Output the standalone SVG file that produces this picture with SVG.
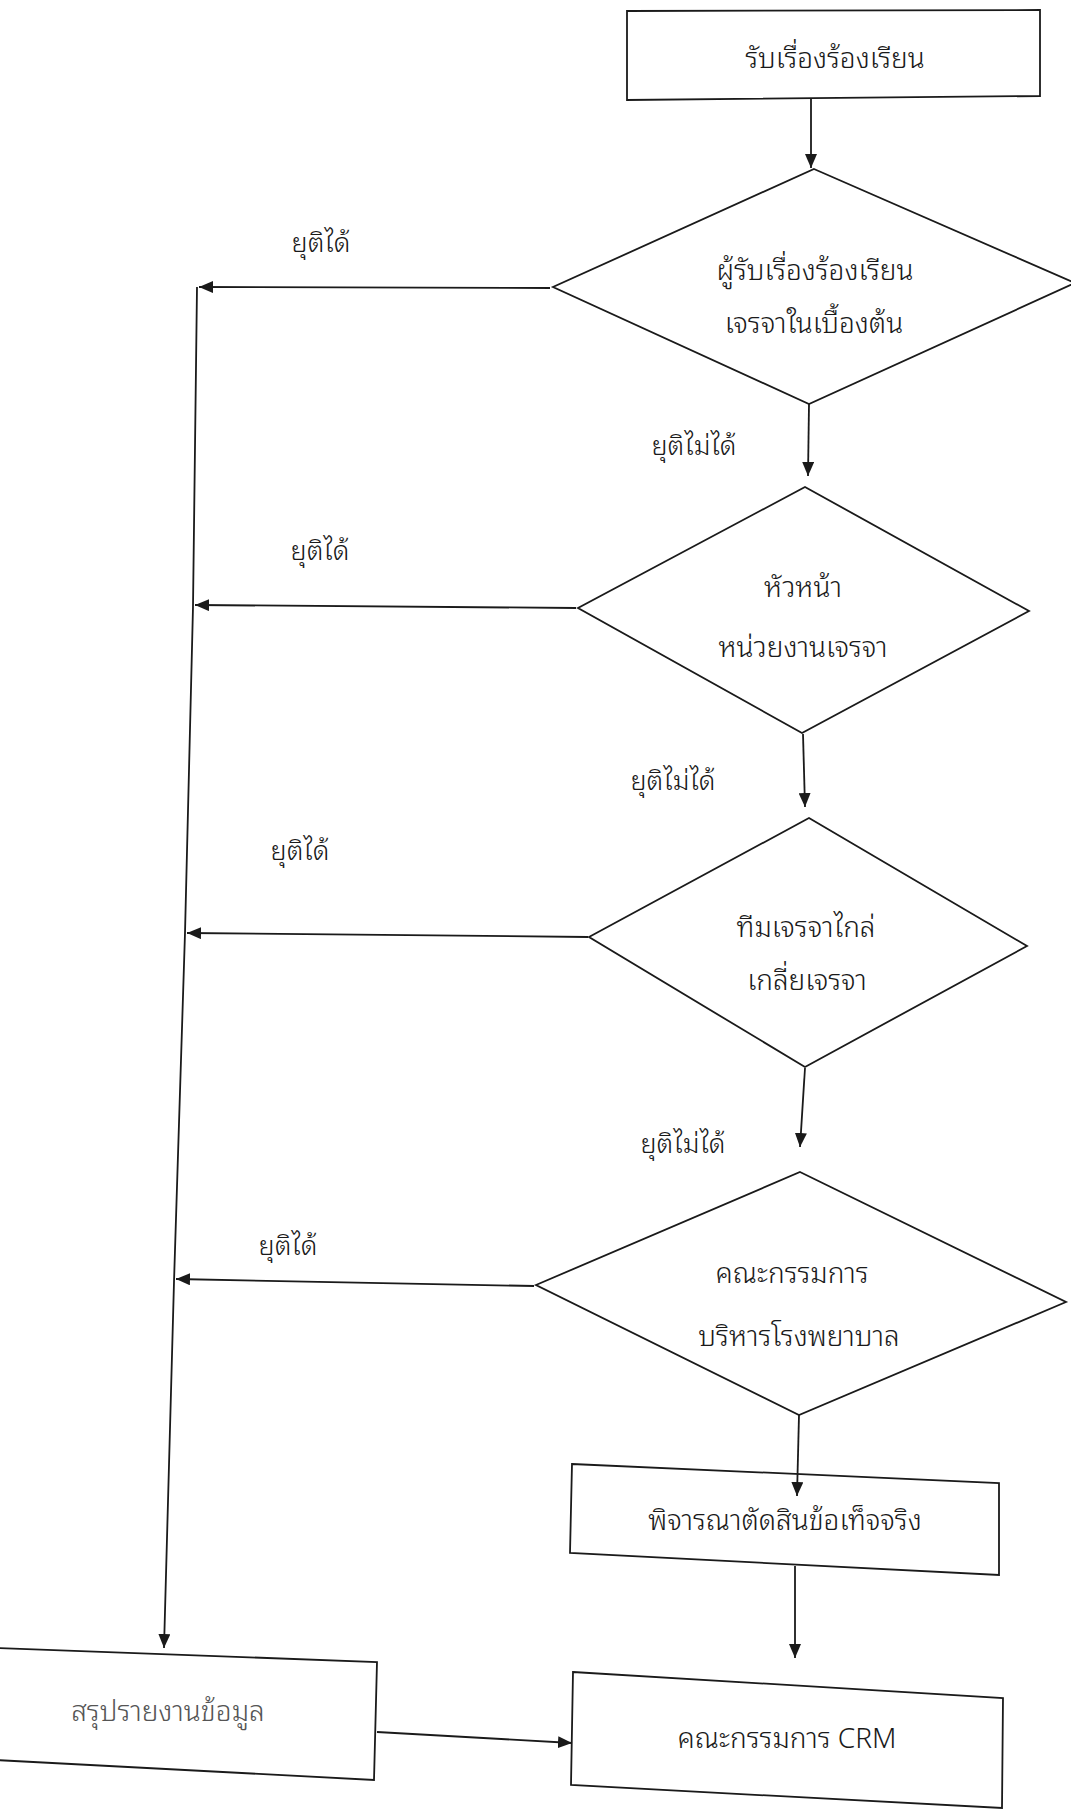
<svg xmlns="http://www.w3.org/2000/svg" width="1071" height="1811" viewBox="0 0 1071 1811">
<style>
.shape{fill:#fff;stroke:#1a1a1a;stroke-width:1.8}
.con{fill:none;stroke:#1a1a1a;stroke-width:1.8}
.t{font-family:'Noto Sans Thai Looped','Noto Serif Thai','Noto Sans Thai','Tlwg Typo','Loma','Garuda','Noto Sans','DejaVu Sans',sans-serif;font-size:28px;font-weight:300;fill:#1a1a1a;text-anchor:middle}
.lbl{font-size:27px}
.grey{fill:#555}
</style>
<defs>
<marker id="ah" viewBox="0 0 14 12" refX="14" refY="6" markerWidth="14" markerHeight="12" markerUnits="userSpaceOnUse" orient="auto">
<path d="M0,0 L14,6 L0,12 z" fill="#1a1a1a"/>
</marker>
</defs>
<rect width="1071" height="1811" fill="#fff"/>

<g id="n-receive">
<polygon class="shape" points="627,11 1040,10 1040,96 627,100"/>
<text class="t" x="835" y="68">รับเรื่องร้องเรียน</text>
</g>

<g id="n-d1">
<polygon class="shape" points="814,169 1075,283 809,404 553,287"/>
<text class="t" x="815" y="280">ผู้รับเรื่องร้องเรียน</text>
<text class="t" x="814" y="333">เจรจาในเบื้องต้น</text>
</g>

<g id="n-d2">
<polygon class="shape" points="805,487 1029,611 802,733 578,608"/>
<text class="t" x="803" y="597">หัวหน้า</text>
<text class="t" x="803" y="657">หน่วยงานเจรจา</text>
</g>

<g id="n-d3">
<polygon class="shape" points="809,818 1027,946 805,1067 589,937"/>
<text class="t" x="806" y="937">ทีมเจรจาไกล่</text>
<text class="t" x="807" y="990">เกลี่ยเจรจา</text>
</g>

<g id="n-d4">
<polygon class="shape" points="800,1172 1066,1302 799,1415 536,1285"/>
<text class="t" x="792" y="1283">คณะกรรมการ</text>
<text class="t" x="799" y="1346">บริหารโรงพยาบาล</text>
</g>

<g id="n-decide">
<polygon class="shape" points="572,1464 999,1483 999,1575 570,1553"/>
<text class="t" x="785" y="1530">พิจารณาตัดสินข้อเท็จจริง</text>
</g>

<g id="n-crm">
<polygon class="shape" points="573,1672 1003,1698 1002,1808 571,1785"/>
<text class="t" x="787" y="1748">คณะกรรมการ CRM</text>
</g>

<g id="n-summary">
<polygon class="shape" points="-5,1648 377,1662 374,1780 -5,1760"/>
<text class="t grey" x="168" y="1721">สรุปรายงานข้อมูล</text>
</g>

<g id="connectors">
<path class="con" d="M811,99 L811,168" marker-end="url(#ah)"/>
<path class="con" d="M809,404 L808,476" marker-end="url(#ah)"/>
<path class="con" d="M803,734 L805,807" marker-end="url(#ah)"/>
<path class="con" d="M805,1068 L800,1147" marker-end="url(#ah)"/>
<path class="con" d="M799,1415 L797,1496" marker-end="url(#ah)"/>
<path class="con" d="M795,1566 L795,1658" marker-end="url(#ah)"/>
<path class="con" d="M377,1732 L572,1743" marker-end="url(#ah)"/>
<path class="con" d="M550,288 L199,287" marker-end="url(#ah)"/>
<path class="con" d="M576,608 L195,605" marker-end="url(#ah)"/>
<path class="con" d="M588,937 L187,933" marker-end="url(#ah)"/>
<path class="con" d="M534,1286 L176,1279" marker-end="url(#ah)"/>
<path class="con" d="M197,287 L193,607 L185,933 L174,1282 L164,1648" marker-end="url(#ah)"/>
<text class="t lbl" x="321" y="252">ยุติได้</text>
<text class="t lbl" x="320" y="560">ยุติได้</text>
<text class="t lbl" x="300" y="860">ยุติได้</text>
<text class="t lbl" x="288" y="1255">ยุติได้</text>
<text class="t lbl" x="694" y="455">ยุติไม่ได้</text>
<text class="t lbl" x="673" y="790">ยุติไม่ได้</text>
<text class="t lbl" x="683" y="1153">ยุติไม่ได้</text>
</g>
</svg>
